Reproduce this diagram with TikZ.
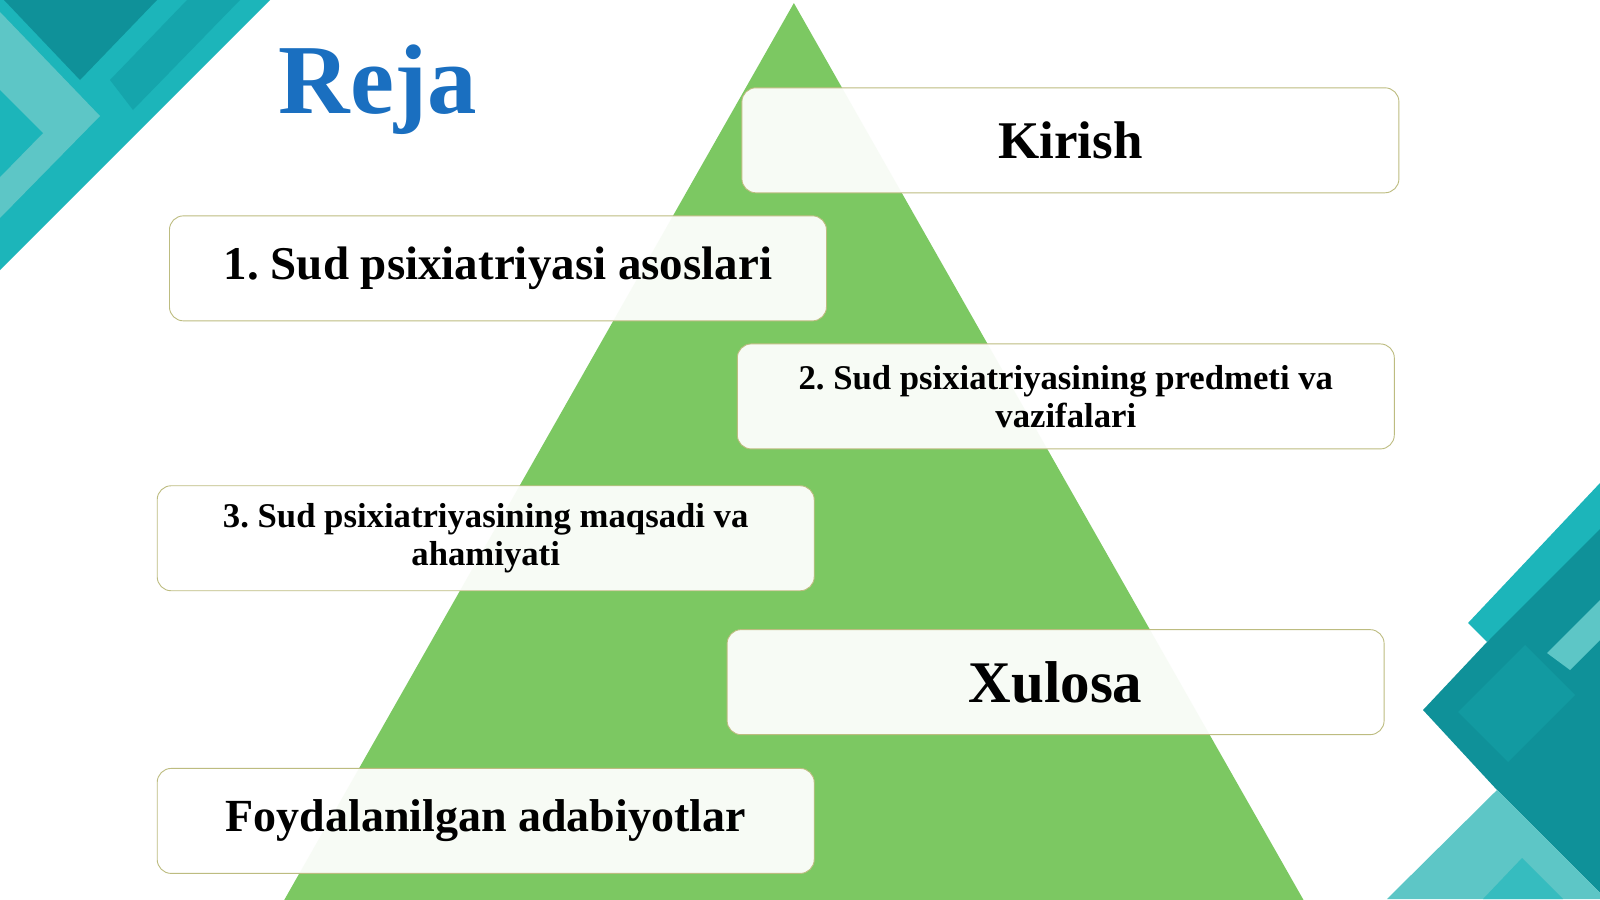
\documentclass[tikz,border=0pt]{standalone}
\usepackage{fontspec}
\setmainfont{Liberation Serif}
\definecolor{tealmid}{HTML}{1CB5BA}
\definecolor{tealdark}{HTML}{0F9199}
\definecolor{teallight}{HTML}{5DC6C6}
\definecolor{tealstrip}{HTML}{15A5AC}
\definecolor{pyrgreen}{HTML}{7CC862}
\definecolor{rejablue}{HTML}{1A6FC0}
\definecolor{boxline}{HTML}{BDBC80}
\begin{document}
\begin{tikzpicture}[x=1pt,y=-1pt,
  planbox/.style={draw=boxline, line width=0.9pt, fill=white, fill opacity=0.94, text opacity=1,
    rounded corners=14pt, minimum width=657pt, minimum height=105pt, inner sep=0pt,
    align=center},
  bigtxt/.style={font=\fontsize{53}{57}\selectfont\bfseries},
  midtxt/.style={font=\fontsize{47}{51}\selectfont\bfseries},
  smalltxt/.style={font=\fontsize{34.7}{37.5}\selectfont\bfseries}
]
\frenchspacing
\useasboundingbox (0,0) rectangle (1600,899);
\fill[white] (0,0) rectangle (1600,899);
% top-left decoration
\fill[tealmid] (0,0) -- (270,0) -- (0,270) -- cycle;
\fill[teallight] (0,12) -- (100,116) -- (0,218) -- cycle;
\fill[tealmid] (0,90) -- (43,133) -- (0,177) -- cycle;
\fill[tealdark] (4,0) -- (157,0) -- (80,80) -- cycle;
\fill[tealstrip] (110,80) -- (187,0) -- (240,0) -- (133,110) -- cycle;
% bottom-right decoration
\fill[tealmid] (1468,623) -- (1600,483) -- (1600,545) -- (1487,642) -- cycle;
\fill[tealdark] (1423,710) -- (1487,642) -- (1600,529) -- (1600,893) -- (1497,790) -- cycle;
\fill[tealdark!75!tealmid] (1458,712) -- (1525,645) -- (1575,695) -- (1508,762) -- cycle;
\fill[teallight] (1547,653) -- (1600,600) -- (1600,640) -- (1570,670) -- cycle;
\fill[teallight] (1497,790) -- (1600,893) -- (1600,899) -- (1387,899) -- cycle;
\fill[tealmid!60!teallight] (1483,899) -- (1522,858) -- (1563,899) -- cycle;
\begin{scope}[scale=1.0204]
% pyramid
\fill[pyrgreen] (778,3) -- (1282,890) -- (274,890) -- cycle;
% title
\node[text=rejablue, font=\fontsize{99}{102}\selectfont\bfseries, anchor=center] (title) at (370,88) {Reja};
% boxes
\node[planbox, bigtxt] (kirish) at (1049,137.5) {Kirish};
\node[planbox, midtxt] (p1) at (488,263) {1. Sud psixiatriyasi asoslari};
\node[planbox, smalltxt] (p2) at (1044.5,388.5) {2. Sud psixiatriyasining predmeti va\\vazifalari};
\node[planbox, smalltxt] (p3) at (476,527.5) {3. Sud psixiatriyasining maqsadi va\\ahamiyati};
\node[planbox, font=\fontsize{59}{63}\selectfont\bfseries] (xulosa) at (1034.5,668.5) {Xulosa};
\node[planbox, font=\fontsize{46}{50}\selectfont\bfseries] (adab) at (476,804.5) {Foydalanilgan adabiyotlar};
\end{scope}
\end{tikzpicture}
\end{document}
